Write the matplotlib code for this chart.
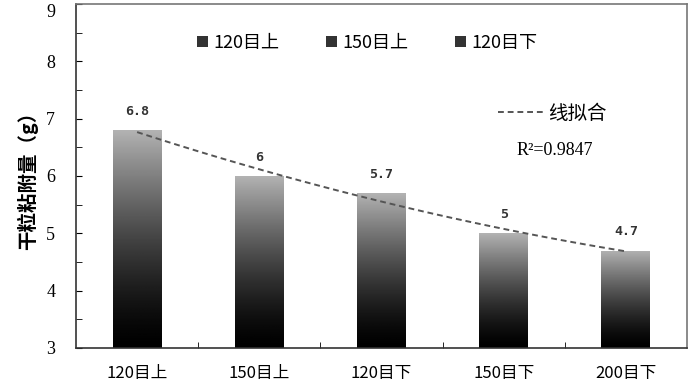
import matplotlib.pyplot as plt
import numpy as np
from matplotlib.patches import Patch
from matplotlib.lines import Line2D

plt.rcParams['font.family'] = ['Noto Sans CJK SC', 'DejaVu Sans']

categories = ['120目上', '150目上', '120目下', '150目下', '200目下']
values = [6.8, 6.0, 5.7, 5.0, 4.7]
value_labels = ['6.8', '6', '5.7', '5', '4.7']
legend_names = ['120目上', '150目上', '120目下']
r2_text = 'R²=0.9847'

fig = plt.figure(figsize=(6.9, 3.81), dpi=100)
ax = fig.add_axes([76 / 690, 33 / 381, 611 / 690, 344 / 381])

x = np.arange(len(categories))
bars = ax.bar(x, values, width=0.4, color='none', edgecolor='none', zorder=2)

# vertical gradient: light grey on top, black at the bottom
grad = (np.linspace(1, 0, 256) ** 1.4 * 0.7).reshape(-1, 1)
for b in bars:
    x0, w, h = b.get_x(), b.get_width(), b.get_height()
    im = ax.imshow(grad, cmap='gray', vmin=0, vmax=1, aspect='auto',
                   extent=[x0, x0 + w, 3, h], origin='upper', zorder=2)
    im.set_clip_path(b)

for xi, v, lab in zip(x, values, value_labels):
    ax.text(xi, v + 0.33, lab, ha='center', va='center', fontsize=9.5,
            fontweight='bold', color='#333333', family='DejaVu Sans Mono')

# trend line
coef = np.polyfit(x, values, 2)
xs = np.linspace(x[0], x[-1], 100)
ax.plot(xs, np.polyval(coef, xs), ls=(0, (3, 2)), color='#555555', lw=1.4, zorder=3)

ax.set_xlim(-0.5, len(categories) - 0.5)
ax.set_ylim(3, 9)
ax.set_yticks(np.arange(3, 10, 1))
ax.set_yticks(np.arange(3, 9, 0.5), minor=True)
ax.set_xticks(x)
ax.set_xticklabels(categories, fontsize=12)
ax.set_xticks(np.arange(0.5, len(categories) - 1, 1), minor=True)
ax.tick_params(axis='x', which='major', length=0, pad=12)
ax.tick_params(axis='x', which='minor', direction='in', length=4)
ax.tick_params(axis='y', which='both', direction='in', length=4)
ax.tick_params(axis='y', which='major', labelsize=13, pad=15)
for t in ax.get_yticklabels():
    t.set_family('Liberation Serif')
ax.yaxis.get_major_ticks()[-1].label1.set_va('top')
ax.set_ylabel('干粒粘附量（g）', fontsize=14, fontweight='bold', labelpad=6)

for name, s in ax.spines.items():
    s.set_color('#333333' if name in ('left', 'bottom') else '#777777')
    s.set_linewidth(1.2)

handles = [Patch(facecolor='#333333', edgecolor='none') for _ in legend_names]
leg1 = ax.legend(handles, legend_names, ncol=3, loc='center left',
                 bbox_to_anchor=(0.198, 0.887), frameon=False, fontsize=13,
                 handlelength=0.6, handleheight=0.6, handletextpad=0.3,
                 columnspacing=2.6, borderpad=0, borderaxespad=0)
ax.add_artist(leg1)
ax.legend([Line2D([0], [0], ls=(0, (3, 2)), color='#555555', lw=1.4)], ['线拟合'],
          loc='center left', bbox_to_anchor=(0.69, 0.683), frameon=False,
          fontsize=14, handlelength=2.4, handletextpad=0.2,
          borderpad=0, borderaxespad=0)
ax.text(0.784, 0.575, r2_text, transform=ax.transAxes, ha='center', va='center',
        fontsize=13, family='Liberation Serif')

fig.savefig('out.png', dpi=100)
